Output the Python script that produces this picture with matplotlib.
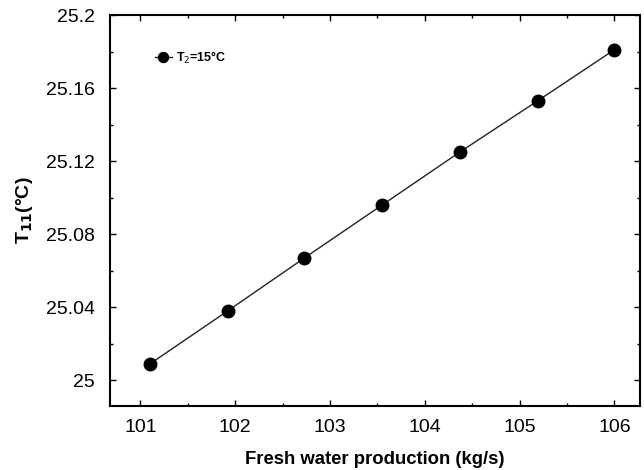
import matplotlib
matplotlib.use("Agg")
import matplotlib.pyplot as plt
from matplotlib.ticker import MultipleLocator

plt.rcParams['font.family'] = ['Liberation Sans', 'DejaVu Sans']

production = [101.10, 101.92, 102.73, 103.55, 104.37, 105.19, 106.00]
t11 = [25.009, 25.038, 25.067, 25.096, 25.125, 25.153, 25.181]
series_label = r'T$_2$=15°C'
xticks = [101, 102, 103, 104, 105, 106]
yticks = [25.0, 25.04, 25.08, 25.12, 25.16, 25.2]
ytick_labels = ['25', '25.04', '25.08', '25.12', '25.16', '25.2']

fig = plt.figure(figsize=(6.44, 4.70), dpi=100)
ax = fig.add_axes([110 / 644, 1 - 406 / 470, 530 / 644, 391 / 470])

ax.plot(production, t11, color='#222222', lw=1.0, marker='o', ms=9,
        mfc='black', mec='black', label=series_label)

ax.set_xlim(100.68, 106.27)
ax.set_ylim(24.986, 25.2)
ax.set_xticks(xticks)
ax.set_xticklabels([str(v) for v in xticks])
ax.set_yticks(yticks)
ax.set_yticklabels(ytick_labels)
ax.xaxis.set_minor_locator(MultipleLocator(0.5))
ax.yaxis.set_minor_locator(MultipleLocator(0.02))
ax.tick_params(which='both', direction='in', top=True, right=True,
               labelsize=14, length=4, width=1)
ax.tick_params(which='minor', length=2.5)
ax.tick_params(axis='x', pad=9)
ax.tick_params(axis='y', pad=11)
for s in ax.spines.values():
    s.set_linewidth(1.5)

ax.set_xlabel('Fresh water production (kg/s)', fontsize=13.3, fontweight='bold', labelpad=11)
ax.set_ylabel(r'T$_{\mathbf{11}}$(°C)', fontsize=14, fontweight='bold', labelpad=8)

leg = ax.legend(loc='upper left', bbox_to_anchor=(0.063, 0.94), frameon=False,
                fontsize=9, handlelength=1.4, markerscale=0.8, handletextpad=0.3)
for t in leg.get_texts():
    t.set_fontweight('bold')

fig.savefig('out.png', dpi=100)
